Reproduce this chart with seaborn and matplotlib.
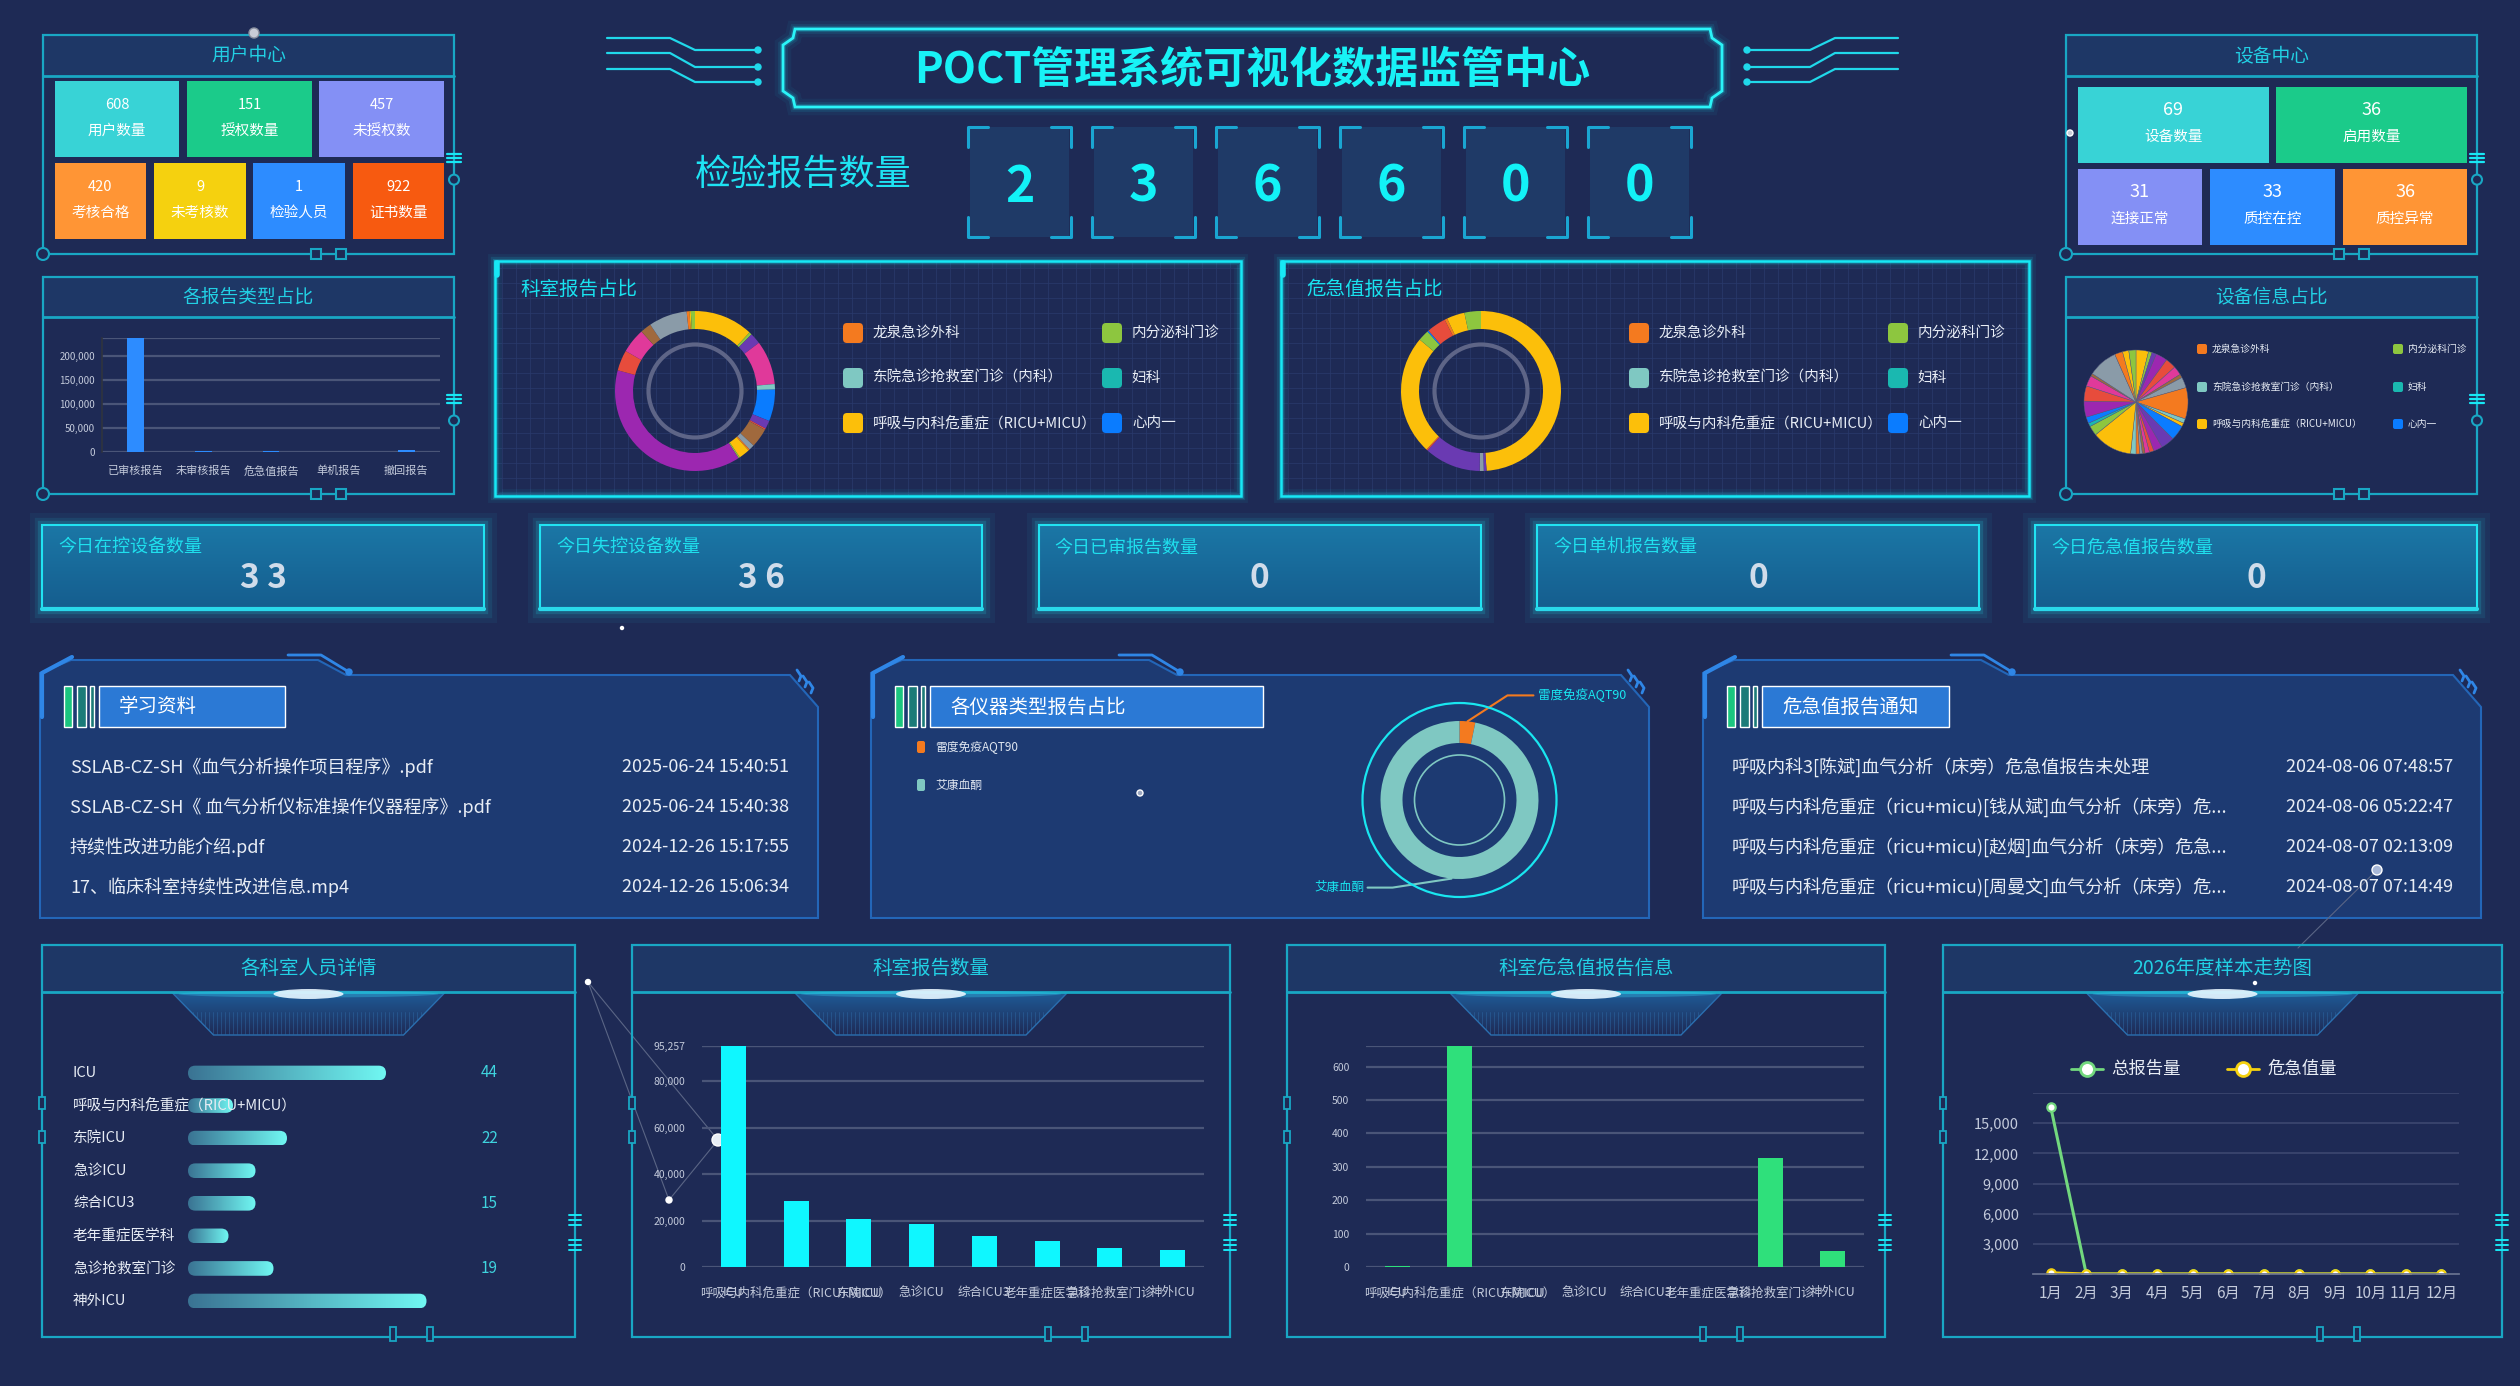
import numpy as np
import pandas as pd
import matplotlib
matplotlib.use("Agg")
import matplotlib.pyplot as plt
import seaborn as sns
from matplotlib.patches import Rectangle, FancyBboxPatch, Circle, Polygon, Ellipse
from matplotlib.colors import LinearSegmentedColormap

sns.set_theme(style="white")
plt.rcParams["font.family"] = ["Noto Sans CJK SC", "DejaVu Sans"]
plt.rcParams["axes.unicode_minus"] = False

# ---------------- data ----------------
OR, GR, LT, TE, YE, BL = "#f47a1f", "#8dc63f", "#7fc8c2", "#1ab8b0", "#fcbf0a", "#0a7cff"
DP, MG, RD, BR, GY, PU = "#6a3ab2", "#e0399a", "#e74c3c", "#a0693d", "#8a9ba8", "#9c27b0"

user_names = ["用户数量", "授权数量", "未授权数", "考核合格", "未考核数", "检验人员", "证书数量"]
user_vals = [608, 151, 457, 420, 9, 1, 922]
user_colors = ["#38d3d6", "#1bcb8a", "#8490f5", "#ff9535", "#f5d10f", "#2d8cff", "#f75a10"]

device_names = ["设备数量", "启用数量", "连接正常", "质控在控", "质控异常"]
device_vals = [69, 36, 31, 33, 36]
device_colors = ["#38d3d6", "#1bcb8a", "#8490f5", "#2d8cff", "#ff9535"]

report_total = 236600

type_cats = ["已审核报告", "未审核报告", "危急值报告", "单机报告", "撤回报告"]
type_vals = [236600, 1800, 1041, 0, 4600]

legend_depts = ["龙泉急诊外科", "内分泌科门诊", "东院急诊抢救室门诊（内科）", "妇科",
                "呼吸与内科危重症（RICU+MICU）", "心内一"]
legend_colors = [OR, GR, LT, TE, YE, BL]

dept_share_vals = [43, 2, 8, 32, 4, 23, 6, 1, 14, 4, 1, 8, 1, 138, 15, 18, 8, 28, 2, 1, 3]
dept_share_colors = [YE, GR, DP, MG, LT, BL, DP, RD, BR, GY, OR, YE, GR, PU, RD, MG, BR, GY, OR, YE, GR]

crit_share_vals = [176, 2, 3, 41, 1, 87, 8, 1, 14, 2, 13, 12]
crit_share_colors = [YE, DP, GY, DP, RD, YE, GR, BL, RD, OR, YE, GR]

device_share_vals = [14, 4, 5, 13, 12, 10, 4, 12, 35, 5, 4, 17, 15, 10, 5, 5, 3, 3,
                     4, 6, 45, 11, 4, 7, 18, 17, 12, 3, 33, 9, 7, 8]
device_share_colors = [YE, GR, DP, PU, RD, MG, BR, GY, OR, LT, YE, BL, DP, PU, RD, MG, BR, GY,
                       OR, LT, YE, GR, TE, BL, PU, RD, MG, BR, GY, OR, YE, GR]

today_names = ["今日在控设备数量", "今日失控设备数量", "今日已审报告数量", "今日单机报告数量", "今日危急值报告数量"]
today_vals = [33, 36, 0, 0, 0]

doc_names = ["SSLAB-CZ-SH《血气分析操作项目程序》.pdf",
             "SSLAB-CZ-SH《 血气分析仪标准操作仪器程序》.pdf",
             "持续性改进功能介绍.pdf",
             "17、临床科室持续性改进信息.mp4"]
doc_times = ["2025-06-24 15:40:51", "2025-06-24 15:40:38", "2024-12-26 15:17:55", "2024-12-26 15:06:34"]

instr_names = ["雷度免疫AQT90", "艾康血酮"]
instr_vals = [760, 22900]
instr_colors = [OR, LT]

notice_texts = ["呼吸内科3[陈斌]血气分析（床旁）危急值报告未处理",
                "呼吸与内科危重症（ricu+micu)[钱从斌]血气分析（床旁）危...",
                "呼吸与内科危重症（ricu+micu)[赵烟]血气分析（床旁）危急...",
                "呼吸与内科危重症（ricu+micu)[周曼文]血气分析（床旁）危..."]
notice_times = ["2024-08-06 07:48:57", "2024-08-06 05:22:47", "2024-08-07 02:13:09", "2024-08-07 07:14:49"]

staff_depts = ["ICU", "呼吸与内科危重症（RICU+MICU）", "东院ICU", "急诊ICU", "综合ICU3",
               "老年重症医学科", "急诊抢救室门诊", "神外ICU"]
staff_vals = [44, 10, 22, 15, 15, 9, 19, 53]
dept_report_vals = [95257, 28571, 20714, 18571, 13286, 11286, 8143, 7429]
dept_crit_vals = [3, 662, 0, 0, 0, 0, 328, 48]

months = [f"{i}月" for i in range(1, 13)]
total_trend = [16600, 0, 0, 0, 0, 0, 0, 0, 0, 0, 0, 0]
crit_trend = [120, 0, 0, 0, 0, 0, 0, 0, 0, 0, 0, 0]

# ---------------- canvas ----------------
W, H = 2520, 1386
BG = "#1e2a55"
HEAD = "#1e3766"
BORDER = "#19a7c4"
TITLE_C = "#22d0e4"
CYAN = "#17e8f5"
TXT = "#e8edf5"
AXT = "#c3cadb"

fig = plt.figure(figsize=(W / 100, H / 100), dpi=100, facecolor=BG)
bg = fig.add_axes([0, 0, 1, 1], zorder=0)
bg.set_xlim(0, W)
bg.set_ylim(H, 0)
bg.set_autoscale_on(False)
bg.axis("off")


def sub_ax(x0, y0, x1, y1):
    ax = fig.add_axes([x0 / W, 1 - y1 / H, (x1 - x0) / W, (y1 - y0) / H], zorder=2)
    ax.patch.set_alpha(0)
    return ax


def grad_img(x0, y0, x1, y1, c0, c1, horizontal=False, zorder=1, clip=None, alpha=1):
    g = np.linspace(0, 1, 128)
    g = g.reshape(1, -1) if horizontal else g.reshape(-1, 1)
    cmap = LinearSegmentedColormap.from_list("g", [c0, c1])
    im = bg.imshow(g, cmap=cmap, extent=(x0, x1, y1, y0), aspect="auto",
                   zorder=zorder, interpolation="bilinear", alpha=alpha)
    if clip is not None:
        im.set_clip_path(clip)
    return im


def framed_panel(x0, y0, x1, y1, title, head_h, fs=13.5, bottom_style=False):
    bg.add_patch(Rectangle((x0, y0), x1 - x0, head_h, fc=HEAD, ec="none", zorder=1))
    bg.add_patch(Rectangle((x0, y0), x1 - x0, y1 - y0, fc="none", ec=BORDER, lw=1.6, zorder=3))
    bg.plot([x0, x1], [y0 + head_h] * 2, color=BORDER, lw=2, zorder=3)
    bg.text((x0 + x1) / 2, y0 + head_h / 2, title, color=TITLE_C, fontsize=fs,
            ha="center", va="center", zorder=4)
    if not bottom_style:
        bg.add_patch(Circle((x0, y1), 6, fc=BG, ec=BORDER, lw=1.5, zorder=4))
        for sx in (x1 - 138, x1 - 113):
            bg.add_patch(Rectangle((sx - 5, y1 - 5), 10, 10, fc=BG, ec=BORDER, lw=1.5, zorder=4))
        my = y0 + (y1 - y0) * 0.56
        for dy in (-4, 0, 4):
            bg.plot([x1 - 7, x1 + 7], [my + dy] * 2, color=CYAN, lw=1.6, zorder=4)
        bg.add_patch(Circle((x1, my + 22), 5, fc=BG, ec=BORDER, lw=1.5, zorder=4))
    else:
        for sx in (x1 - 182, x1 - 145):
            bg.add_patch(Rectangle((sx - 3, y1 - 10), 6, 14, fc=BG, ec=BORDER, lw=1.3, zorder=4))
        for sy in (1103, 1137):
            bg.add_patch(Rectangle((x0 - 3, sy - 6), 6, 12, fc=BG, ec=BORDER, lw=1.3, zorder=4))
        for sy in (1220, 1245):
            for dy in (-5, 0, 5):
                bg.plot([x1 - 6, x1 + 6], [sy + dy] * 2, color=CYAN, lw=1.4, zorder=4)
        # lamp decoration under the header
        cx = (x0 + x1) / 2
        trap = Polygon([(cx - 136, y0 + head_h + 1), (cx + 136, y0 + head_h + 1),
                        (cx + 95, y0 + head_h + 43), (cx - 95, y0 + head_h + 43)],
                       closed=True, fc="none", ec="#2a6fb0", lw=1, zorder=2)
        bg.add_patch(trap)
        grad_img(cx - 136, y0 + head_h + 1, cx + 136, y0 + head_h + 43,
                 "#1f5a96", BG, zorder=1, clip=trap)
        for vx in np.arange(cx - 120, cx + 121, 4):
            ln, = bg.plot([vx, vx], [y0 + head_h + 20, y0 + head_h + 42], color="#2f6fae",
                          lw=0.6, alpha=0.5, zorder=1.5)
            ln.set_clip_path(trap)
        bg.add_patch(Ellipse((cx, y0 + head_h + 2), 260, 7, fc="#35c8ee", alpha=0.35, ec="none", zorder=3))
        bg.add_patch(Ellipse((cx, y0 + head_h + 2), 70, 10, fc="#e8f6ff", alpha=0.9, ec="none", zorder=3))


def tile(x0, y0, x1, y1, color, val, name, fs_v, fs_n, yv, yn):
    bg.add_patch(Rectangle((x0, y0), x1 - x0, y1 - y0, fc=color, ec="none", zorder=2))
    bg.text((x0 + x1) / 2, y0 + (y1 - y0) * yv, str(val), color="white", fontsize=fs_v,
            ha="center", va="center", zorder=3)
    bg.text((x0 + x1) / 2, y0 + (y1 - y0) * yn, name, color="white", fontsize=fs_n,
            ha="center", va="center", zorder=3)


# ---------------- header ----------------
frame = [(795, 29), (1710, 29), (1712, 38), (1722, 45), (1722, 91), (1712, 98), (1710, 107),
         (795, 107), (793, 98), (783, 91), (783, 45), (793, 38)]
for lw, a in [(12, 0.05), (7, 0.1), (4, 0.2)]:
    bg.add_patch(Polygon(frame, closed=True, fc="none", ec=CYAN, lw=lw, alpha=a, zorder=2))
bg.add_patch(Polygon(frame, closed=True, fc="none", ec="#2af4f8", lw=2, zorder=3))
bg.text(1252, 70, "POCT管理系统可视化数据监管中心", color="#18f2f6", fontsize=31,
        weight="bold", ha="center", va="center", zorder=4)
for yt, yb in [(38, 50), (53, 67), (69, 82)]:
    bg.plot([607, 670, 695, 758], [yt, yt, yb, yb], color="#20d8ea", lw=1.6, zorder=2)
    bg.add_patch(Circle((758, yb), 3, color="#20d8ea", zorder=3))
    bg.plot([1898, 1835, 1810, 1747], [yt, yt, yb, yb], color="#20d8ea", lw=1.6, zorder=2)
    bg.add_patch(Circle((1747, yb), 3, color="#20d8ea", zorder=3))

bg.text(803, 175, "检验报告数量", color="#1ee3f3", fontsize=26, ha="center", va="center")
for i, d in enumerate(f"{report_total:06d}"):
    x0 = 970 + i * 124
    bg.add_patch(Rectangle((x0, 127), 99, 110, fc="#1f3a67", ec="none", zorder=1))
    for (xa, xb) in [(x0 - 2, x0 + 18), (x0 + 101, x0 + 81)]:
        for (ya, yb) in [(127, 147), (237, 217)]:
            bg.plot([xb, xa, xa], [ya, ya, yb], color="#1aa6d2", lw=2.2, zorder=2)
    bg.text(x0 + 49.5, 187, d, color="#12f2f7", fontsize=36, weight="bold",
            ha="center", va="center", zorder=3)

# ---------------- user / device centers ----------------
framed_panel(43, 35, 454, 254, "用户中心", 41)
bg.add_patch(Circle((254, 33), 5, fc="#c8ccd8", ec="#8a90a0", zorder=5))
user_rects = [(55, 81, 179, 157), (187, 81, 312, 157), (319, 81, 444, 157),
              (55, 163, 146, 239), (154, 163, 246, 239), (253, 163, 345, 239), (353, 163, 444, 239)]
for r, c, v, n in zip(user_rects, user_colors, user_vals, user_names):
    tile(*r, c, v, n, 10.5, 10.5, 0.32, 0.66)

framed_panel(2066, 35, 2477, 254, "设备中心", 41)
bg.add_patch(Circle((2070, 133), 3, fc="#c8ccd8", zorder=5))
device_rects = [(2078, 87, 2269, 163), (2276, 87, 2467, 163),
                (2078, 169, 2202, 245), (2210, 169, 2335, 245), (2343, 169, 2467, 245)]
for r, c, v, n in zip(device_rects, device_colors, device_vals, device_names):
    tile(*r, c, v, n, 13, 10.5, 0.30, 0.66)

# ---------------- report type bar ----------------
framed_panel(43, 277, 454, 494, "各报告类型占比", 40)
ax = sub_ax(102, 338, 440, 452)
sns.barplot(x=type_cats, y=type_vals, ax=ax, color="#2d8cff", saturation=1, width=0.25, linewidth=0)
ax.set_ylim(0, max(type_vals))
ax.set_xlim(-0.5, len(type_cats) - 0.5)
ax.set_yticks([0, 50000, 100000, 150000, 200000])
ax.set_yticklabels([f"{v:,}" for v in [0, 50000, 100000, 150000, 200000]])
ax.set_axisbelow(True)
ax.yaxis.grid(True, color="#4a5578", lw=1.6)
ax.axhline(max(type_vals), color="#4a5578", lw=1.6, zorder=0)
for s in ["top", "right", "bottom"]:
    ax.spines[s].set_visible(False)
ax.spines["left"].set_color("#30343f")
ax.spines["left"].set_linewidth(1.2)
ax.set_xticks(np.arange(-0.5, len(type_cats), 1), minor=True)
ax.tick_params(axis="x", which="minor", length=6, color="#30343f", width=1.2, direction="out")
ax.tick_params(axis="x", which="major", length=0, pad=10, labelsize=8, labelcolor=AXT)
ax.tick_params(axis="y", length=0, pad=5, labelsize=7, labelcolor=AXT)
ax.set_xlabel("")
ax.set_ylabel("")

# ---------------- donut panels ----------------
def grid_panel(x0, y0, x1, y1, title):
    for gx in np.arange(x0 + 7, x1, 14):
        bg.plot([gx, gx], [y0, y1], color="#2a3a6c", lw=0.5, zorder=1)
    for gy in np.arange(y0 + 7, y1, 15):
        bg.plot([x0, x1], [gy, gy], color="#2a3a6c", lw=0.5, zorder=1)
    for lw, a in [(10, 0.06), (6, 0.12), (3.5, 0.22)]:
        bg.add_patch(Rectangle((x0, y0), x1 - x0, y1 - y0, fc="none", ec=CYAN, lw=lw, alpha=a, zorder=2))
    bg.add_patch(Rectangle((x0, y0), x1 - x0, y1 - y0, fc="none", ec=CYAN, lw=1.8, zorder=3))
    bg.plot([x0 + 2, x0 + 2], [y0 + 2, y0 + 14], color=CYAN, lw=4, zorder=3)
    bg.text(x0 + 25, y0 + 28, title, color="#19e3f0", fontsize=14, va="center", zorder=4)


def donut(cx, cy, r, width, vals, cols, half=100):
    a = sub_ax(cx - half, cy - half, cx + half, cy + half)
    a.pie(vals, colors=cols, radius=r, startangle=90, counterclock=False,
          wedgeprops=dict(width=width, linewidth=0))
    a.set_xlim(-half, half)
    a.set_ylim(-half, half)
    a.set_aspect("equal")
    a.axis("off")
    return a


def legend_grid(xs, ys, size, fs, gap, rounding):
    for k, (nm, c) in enumerate(zip(legend_depts, legend_colors)):
        x, y = xs[k % 2], ys[k // 2]
        bg.add_patch(FancyBboxPatch((x, y - size / 2), size, size,
                                    boxstyle=f"round,pad=0,rounding_size={rounding}",
                                    fc=c, ec="none", zorder=4))
        bg.text(x + size + gap, y, nm, color=TXT, fontsize=fs, va="center", zorder=4)


grid_panel(495, 261, 1241, 496, "科室报告占比")
a = donut(695, 391, 80, 18, dept_share_vals, dept_share_colors)
a.add_patch(Circle((0, 0), 46.5, fc="none", ec="#5e6587", lw=3))
legend_grid([843, 1102], [333, 378, 423], 20, 10.5, 10, 4)

grid_panel(1281, 261, 2029, 496, "危急值报告占比")
a = donut(1481, 391, 80, 18, crit_share_vals, crit_share_colors)
a.add_patch(Circle((0, 0), 46.5, fc="none", ec="#5e6587", lw=3))
legend_grid([1629, 1888], [333, 378, 423], 20, 10.5, 10, 4)

framed_panel(2066, 277, 2477, 494, "设备信息占比", 40)
a = sub_ax(2076, 342, 2196, 462)
a.pie(device_share_vals, colors=device_share_colors, radius=52, startangle=90, counterclock=False,
      wedgeprops=dict(linewidth=0.3, edgecolor="#5a6080"))
a.set_xlim(-60, 60)
a.set_ylim(-60, 60)
a.set_aspect("equal")
a.axis("off")
legend_grid([2197, 2393], [349, 387, 424], 10, 7, 5, 2)

# ---------------- today counters ----------------
for i, (nm, v) in enumerate(zip(today_names, today_vals)):
    x0 = 42 + i * 498.3
    x1 = x0 + 442
    for lw, al in [(18, 0.05), (11, 0.09), (6, 0.16)]:
        bg.add_patch(Rectangle((x0, 525), 442, 85, fc="none", ec="#1ee8f5", lw=lw, alpha=al, zorder=1))
    box = Rectangle((x0, 525), 442, 85, fc="none", ec="none")
    bg.add_patch(box)
    grad_img(x0, 525, x1, 610, "#1b77a6", "#155d8e", zorder=2, clip=box)
    bg.add_patch(Rectangle((x0, 525), 442, 85, fc="none", ec="#21e3f2", lw=1.5, zorder=3))
    bg.plot([x0, x1], [609, 609], color="#2ad8ea", lw=3, zorder=3)
    bg.text(x0 + 16, 548, nm, color="#1fe0ee", fontsize=13, va="center", zorder=4)
    bg.text((x0 + x1) / 2, 578, " ".join(str(v)), color="#d0dcea", fontsize=24, weight="bold",
            ha="center", va="center", zorder=4)

# ---------------- tech panels ----------------
def tech_panel(dx, title, title_w):
    pts = [(40, 918), (40, 673), (71, 660), (318, 660), (346, 675), (790, 675), (818, 707), (818, 918)]
    pts = [(x + dx, y) for x, y in pts]
    bg.add_patch(Polygon(pts, closed=True, fc="#1d3a72", ec="#2366b8", lw=1.5, zorder=1))
    bg.plot([42 + dx, 42 + dx, 72 + dx], [717, 673, 657], color="#2f86e6", lw=3, zorder=2)
    bg.plot([288 + dx, 321 + dx, 349 + dx], [655, 655, 672], color="#2f86e6", lw=2, zorder=2)
    bg.add_patch(Circle((349 + dx, 672), 3, color="#2f86e6", zorder=2))
    for k in range(3):
        bg.plot([797 + dx + k * 6, 801 + dx + k * 6, 799 + dx + k * 6],
                [670 + k * 6, 676 + k * 6, 681 + k * 6], color="#2f86e6", lw=2, zorder=2)
    bg.add_patch(Rectangle((64 + dx, 686), 8, 41, fc="#1bc57f", zorder=2))
    bg.add_patch(Rectangle((77 + dx, 686), 9, 41, fc="#1b7b78", zorder=2))
    bg.add_patch(Rectangle((90 + dx, 686), 4, 41, fc="#1b7b78", zorder=2))
    bg.add_patch(Rectangle((99 + dx, 686), title_w, 41, fc="#2b79d5", zorder=2))
    bg.text(119 + dx, 707, title, color="white", fontsize=14, va="center", zorder=3)


row_y = [767, 807, 847, 887]
tech_panel(0, "学习资料", 186)
for y, nm, t in zip(row_y, doc_names, doc_times):
    bg.text(70, y, nm, color=TXT, fontsize=13, va="center", zorder=3)
    bg.text(789, y, t, color=TXT, fontsize=13, va="center", ha="right", zorder=3)

tech_panel(831, "各仪器类型报告占比", 333)
icx, icy = 1459.5, 800
a = donut(icx, icy, 79, 22, instr_vals, instr_colors, half=110)
a.add_patch(Circle((0, 0), 97, fc="none", ec="#19e6f0", lw=1.6))
a.add_patch(Circle((0, 0), 45, fc="none", ec=LT, lw=1.2))
cum = np.cumsum([0] + instr_vals) / sum(instr_vals)
for k, (nm, c) in enumerate(zip(instr_names, instr_colors)):
    bg.add_patch(FancyBboxPatch((917, [747, 785][k] - 6), 8, 12, boxstyle="round,pad=0,rounding_size=2",
                                fc=c, ec="none", zorder=3))
    bg.text(935, [747, 785][k], nm, color="#dfe6f0", fontsize=8.5, va="center", zorder=3)
    mid = np.deg2rad(90 - 360 * (cum[k] + cum[k + 1]) / 2)
    px, py = icx + 79 * np.cos(mid), icy - 79 * np.sin(mid)
    if np.cos(mid) >= 0:
        xs, ys = [px, px + 40, px + 66], [py, py - 26, py - 26]
        bg.text(xs[-1] + 5, ys[-1], nm, color="#19e6f0", fontsize=9, va="center", zorder=3)
    else:
        xs, ys = [px, px - 59, px - 84], [py, py + 9, py + 9]
        bg.text(xs[-1] - 3, ys[-1], nm, color="#19e6f0", fontsize=9, va="center", ha="right", zorder=3)
    bg.plot(xs, ys, color=c, lw=1.5, zorder=3)
bg.add_patch(Circle((1140, 793), 3, fc="#9aa6c0", zorder=3))

tech_panel(1663, "危急值报告通知", 187)
for y, nm, t in zip(row_y, notice_texts, notice_times):
    bg.text(1732, y, nm, color=TXT, fontsize=13, va="center", zorder=3)
    bg.text(2453, y, t, color=TXT, fontsize=13, va="center", ha="right", zorder=3)

# ---------------- bottom panels ----------------
framed_panel(42, 945, 575, 1337, "各科室人员详情", 47, fs=14, bottom_style=True)
framed_panel(632, 945, 1230, 1337, "科室报告数量", 47, fs=14, bottom_style=True)
framed_panel(1287, 945, 1885, 1337, "科室危急值报告信息", 47, fs=14, bottom_style=True)
framed_panel(1943, 945, 2502, 1337, "2026年度样本走势图", 47, fs=14, bottom_style=True)

# staff bars (gradient, rounded)
ax = sub_ax(188, 1056.7, 458, 1317.3)
sns.barplot(x=staff_vals, y=staff_depts, orient="h", ax=ax, color="#4fb8c8", saturation=1,
            width=0.45, linewidth=0)
ax.set_xlim(0, 60)
ax.set_ylim(len(staff_depts) - 0.5, -0.5)
ax.axis("off")
bar_cmap_c = ("#3a7393", "#70f7f2")
for k, p in enumerate(ax.patches):
    (X0, Y0d), (X1, Y1d) = ax.transData.transform([(p.get_x(), p.get_y()),
                                                    (p.get_x() + p.get_width(), p.get_y() + p.get_height())])
    ya, yb = sorted([H - Y0d, H - Y1d])
    h = yb - ya
    shape = FancyBboxPatch((X0, ya), X1 - X0, h, boxstyle=f"round,pad=0,rounding_size={h / 2}",
                           fc="none", ec="none", zorder=2)
    bg.add_patch(shape)
    grad_img(X0, ya, X1, yb, *bar_cmap_c, horizontal=True, zorder=2, clip=shape)
    p.set_visible(False)
    yc = (ya + yb) / 2
    bg.text(73, yc, staff_depts[k], color=TXT, fontsize=10.5, va="center", zorder=5)
    if k % 2 == 0:
        bg.text(481, yc, str(staff_vals[k]), color="#3fd3de", fontsize=11, va="center", zorder=5)


def dept_bar(x0, x1, vals, color, ticks):
    a = sub_ax(x0, 1046, x1, 1267)
    sns.barplot(x=staff_depts, y=vals, ax=a, color=color, saturation=1, width=0.4, linewidth=0)
    a.set_ylim(0, max(vals))
    a.set_xlim(-0.5, len(staff_depts) - 0.5)
    a.set_yticks(ticks)
    a.set_yticklabels([f"{t:,}" for t in ticks])
    a.set_axisbelow(True)
    a.yaxis.grid(True, color="#4a5578", lw=1.6)
    a.axhline(max(vals), color="#4a5578", lw=1.6, zorder=0)
    for s in a.spines.values():
        s.set_visible(False)
    a.tick_params(axis="x", length=0, pad=14, labelsize=9, labelcolor=AXT)
    a.tick_params(axis="y", length=0, pad=12, labelsize=7.5, labelcolor=AXT)
    a.set_xlabel("")
    a.set_ylabel("")
    return a


dept_bar(702, 1204, dept_report_vals, "#0ff7ff", [0, 20000, 40000, 60000, 80000, max(dept_report_vals)])
dept_bar(1366, 1864, dept_crit_vals, "#2fe07b", [0, 100, 200, 300, 400, 500, 600])

# decorative connector lines
bg.plot([588, 718], [982, 1140], color="#5a6585", lw=0.8, zorder=1)
bg.plot([588, 669], [982, 1200], color="#5a6585", lw=0.8, zorder=1)
bg.plot([669, 718], [1200, 1140], color="#5a6585", lw=0.8, zorder=1)
bg.add_patch(Circle((588, 982), 2.5, fc="white", zorder=3))
bg.add_patch(Circle((669, 1200), 3, fc="white", zorder=3))
bg.add_patch(Circle((718, 1140), 6, fc="#e8eef6", zorder=1))
bg.add_patch(Circle((622, 628), 1.5, fc="white", zorder=3))
bg.plot([2377, 2298], [870, 948], color="#5a6585", lw=0.8, zorder=1)
bg.add_patch(Circle((2377, 870), 5, fc="#a8b8d8", zorder=3))
bg.add_patch(Circle((2255, 983), 1.5, fc="white", zorder=3))

# trend line
trend = pd.DataFrame({"月份": months * 2,
                      "数量": total_trend + crit_trend,
                      "类型": ["总报告量"] * 12 + ["危急值量"] * 12})
line_colors = {"总报告量": "#72d87e", "危急值量": "#f5d10f"}
a = sub_ax(2033, 1093, 2459, 1274)
sns.lineplot(data=trend, x="月份", y="数量", hue="类型", palette=line_colors, ax=a,
             marker="o", markersize=6, markerfacecolor="white", markeredgewidth=1.6,
             linewidth=2.2, legend=False)
for ln in a.get_lines():
    ln.set_markeredgecolor(ln.get_color())
a.set_xlim(-0.5, 11.5)
a.set_ylim(0, 18000)
yt = [3000, 6000, 9000, 12000, 15000]
a.set_yticks(yt)
a.set_yticklabels([f"{v:,}" for v in yt])
a.yaxis.grid(True, color="#3d4870", lw=1.2)
a.axhline(18000, color="#3d4870", lw=1.2, zorder=0)
a.set_axisbelow(True)
for s in ["top", "right", "left"]:
    a.spines[s].set_visible(False)
a.spines["bottom"].set_color("#6a7390")
a.tick_params(axis="x", length=0, pad=8, labelsize=11, labelcolor=AXT)
a.tick_params(axis="y", length=0, pad=10, labelsize=10.5, labelcolor=AXT)
a.set_xlabel("")
a.set_ylabel("")

for x, nm in [(2087, "总报告量"), (2243, "危急值量")]:
    c = line_colors[nm]
    bg.plot([x - 16, x + 16], [1069, 1069], color=c, lw=2, zorder=3)
    bg.plot([x], [1069], marker="o", ms=10, mfc="white", mec=c, mew=2, zorder=4)
    bg.text(x + 24, 1069, nm, color=TXT, fontsize=12.5, va="center", zorder=4)

bg.set_xlim(0, W)
bg.set_ylim(H, 0)
fig.savefig("out.png", dpi=100, facecolor=BG)
